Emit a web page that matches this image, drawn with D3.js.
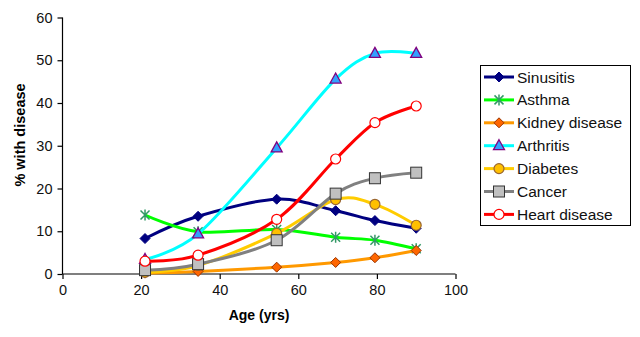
<!DOCTYPE html>
<html lang="en">
<head>
<meta charset="UTF-8">
<title>Disease prevalence by age</title>
<style>
  body { margin: 0; background: #fff; }
  svg { display: block; font-family: "Liberation Sans", Arial, sans-serif; }
</style>
</head>
<body>
<script src="https://cdn.jsdelivr.net/npm/d3@7"></script>
<div id="chart"></div>
<script>
// ages where each survey point sits
const ages = [21, 34.5, 54.5, 69.5, 79.5, 90];

// % with disease per age group
const sinusitis = [8.3, 13.5, 17.5, 14.8, 12.5, 10.7];
const asthma = [13.8, 9.9, 10.4, 8.6, 7.9, 5.9];
const kidney = [0.2, 0.6, 1.6, 2.7, 3.8, 5.5];
const arthritis = [3.4, 9.4, 29.5, 45.6, 51.6, 51.6];
const diabetes = [0.4, 2.0, 9.5, 17.4, 16.3, 11.4];
const cancer = [0.9, 2.3, 7.9, 18.8, 22.4, 23.7];
const heart = [3.0, 4.4, 12.8, 26.9, 35.4, 39.3];

const names = ["Sinusitis", "Asthma", "Kidney disease", "Arthritis", "Diabetes", "Cancer", "Heart disease"];
const xTicks = [0, 20, 40, 60, 80, 100];
const yTicks = [0, 10, 20, 30, 40, 50, 60];

const series = [
  { name: names[0], values: sinusitis, line: "#000080", marker: "diamond", fill: "#000080", stroke: "#000080" },
  { name: names[1], values: asthma, line: "#00ff00", marker: "star", fill: "none", stroke: "#339966" },
  { name: names[2], values: kidney, line: "#ff9900", marker: "diamond", fill: "#ff6600", stroke: "#993300" },
  { name: names[3], values: arthritis, line: "#00ffff", marker: "triangle", fill: "#33a0ff", stroke: "#800080" },
  { name: names[4], values: diabetes, line: "#ffcc00", marker: "circle", fill: "#ffc000", stroke: "#996633" },
  { name: names[5], values: cancer, line: "#808080", marker: "square", fill: "#c0c0c0", stroke: "#333333" },
  { name: names[6], values: heart, line: "#ff0000", marker: "circle", fill: "#ffffff", stroke: "#ff0000" }
];

const width = 640, height = 337;
const svg = d3.select("#chart").append("svg").attr("width", width).attr("height", height);

const x = d3.scaleLinear().domain([0, 100]).range([62.5, 455.5]);
const y = d3.scaleLinear().domain([0, 60]).range([274, 17.5]);

// axes
const gx = svg.append("g").attr("transform", `translate(0,${y(0)})`)
  .call(d3.axisBottom(x).tickValues(xTicks).tickSize(5).tickPadding(6));
const gy = svg.append("g").attr("transform", `translate(${x(0)},0)`)
  .call(d3.axisLeft(y).tickValues(yTicks).tickSize(5).tickPadding(5));
[gx, gy].forEach(g => {
  g.selectAll("path, line").attr("stroke", "#000").attr("stroke-width", 1.2);
  g.selectAll("text").attr("fill", "#111").style("font-size", "14.5px").style("font-family", "Liberation Sans, Arial, sans-serif");
});
gx.select(".domain").attr("d", `M${x(0)},0H${x(100)}`);
gy.select(".domain").attr("d", `M0,${y(0)}V${y(60)}`);

svg.append("text").attr("x", 259).attr("y", 320).attr("text-anchor", "middle")
  .style("font-size", "14px").style("font-weight", "bold").text("Age (yrs)");
svg.append("text").attr("transform", "translate(25,135) rotate(-90)").attr("text-anchor", "middle")
  .style("font-size", "14.5px").style("font-weight", "bold").text("% with disease");

const line = d3.line().curve(d3.curveCardinal.tension(0))
  .x((d, i) => x(ages[i])).y(d => y(d));

function drawMarker(g, type, cx, cy, s) {
  if (type === "diamond") {
    g.append("path").attr("d", `M${cx},${cy - 5}L${cx + 5},${cy}L${cx},${cy + 5}L${cx - 5},${cy}Z`)
      .attr("fill", s.fill).attr("stroke", s.stroke).attr("stroke-width", 1);
  } else if (type === "star") {
    const r = 4.5;
    g.append("path")
      .attr("d", `M${cx - r},${cy - r}L${cx + r},${cy + r}M${cx - r},${cy + r}L${cx + r},${cy - r}M${cx},${cy - r - 1}L${cx},${cy + r + 1}`)
      .attr("fill", "none").attr("stroke", s.stroke).attr("stroke-width", 1.5);
  } else if (type === "triangle") {
    g.append("path").attr("d", `M${cx},${cy - 6}L${cx + 5.5},${cy + 4}L${cx - 5.5},${cy + 4}Z`)
      .attr("fill", s.fill).attr("stroke", s.stroke).attr("stroke-width", 1.3);
  } else if (type === "circle") {
    g.append("circle").attr("cx", cx).attr("cy", cy).attr("r", 5)
      .attr("fill", s.fill).attr("stroke", s.stroke).attr("stroke-width", 1.2);
  } else if (type === "square") {
    g.append("rect").attr("x", cx - 5.5).attr("y", cy - 5.5).attr("width", 11).attr("height", 11)
      .attr("fill", s.fill).attr("stroke", s.stroke).attr("stroke-width", 1);
  }
}

// lines with markers, one group per disease
series.forEach(s => {
  const g = svg.append("g");
  g.append("path").attr("d", line(s.values)).attr("fill", "none")
    .attr("stroke", s.line).attr("stroke-width", 3);
  s.values.forEach((v, i) => drawMarker(g, s.marker, x(ages[i]), y(v), s));
});

// legend
const legend = svg.append("g");
legend.append("rect").attr("x", 480.5).attr("y", 65.5).attr("width", 150).attr("height", 160)
  .attr("fill", "#fff").attr("stroke", "#000").attr("stroke-width", 1);
series.forEach((s, i) => {
  const ly = 77 + i * 22.9;
  const g = legend.append("g");
  g.append("line").attr("x1", 484).attr("x2", 514).attr("y1", ly).attr("y2", ly)
    .attr("stroke", s.line).attr("stroke-width", 3);
  drawMarker(g, s.marker, 499, ly, s);
  g.append("text").attr("x", 517).attr("y", ly + 5.5).style("font-size", "15.5px").attr("fill", "#111").text(s.name);
});
</script>
</body>
</html>
